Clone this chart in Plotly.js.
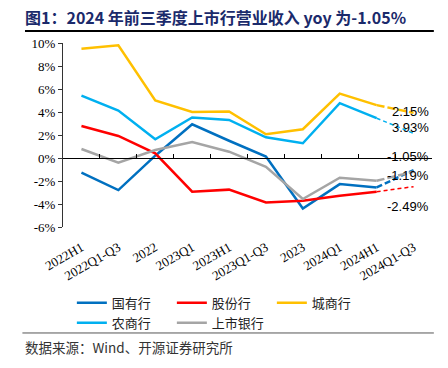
<!DOCTYPE html>
<html>
<head>
<meta charset="utf-8">
<script src="https://cdn.plot.ly/plotly-3.0.1.min.js"></script>
<style>html,body{margin:0;padding:0;background:#fff;}#chart{width:448px;height:368px;}</style>
</head>
<body>
<div id="chart"></div>
<script>
const categories = ["2022H1","2022Q1-Q3","2022","2023Q1","2023H1","2023Q1-Q3","2023","2024Q1","2024H1","2024Q1-Q3"];
const guoyou = [-1.28, -2.79, 0.2, 2.93, 1.5, 0.12, -4.39, -2.27, -2.56, -1.05];
const gufen = [2.79, 1.92, 0.41, -2.93, -2.75, -3.87, -3.72, -3.28, -2.93, -2.49];
const chengshang = [9.5, 9.8, 5.0, 4.0, 4.04, 2.07, 2.5, 5.6, 4.6, 3.93];
const nongshang = [5.43, 4.13, 1.63, 3.52, 3.31, 1.8, 1.28, 4.77, 3.46, 2.15];
const shangshi = [0.78, -0.41, 0.70, 1.39, 0.55, -0.76, -3.57, -1.71, -1.98, -1.19];
const seriesNames = ["国有行","股份行","城商行","农商行","上市银行"];
const endLabels = ["2.15%","3.93%","-1.05%","-1.19%","-2.49%"];
const endLabelY = [4.02, 2.68, 0.17, -1.54, -4.18];
const yTicks = [-6,-4,-2,0,2,4,6,8,10];

const seriesData = [guoyou, gufen, chengshang, nongshang, shangshi];
const colors = ["#0070C0","#FF0000","#FFC000","#00B0F0","#A5A5A5"];
const dashStyle = [
  {dash:"6px,3px", width:2.5},
  {dash:"4px,3px", width:1.5},
  {dash:"8px,3px", width:2.5},
  {dash:"4px,3px", width:1.5},
  {dash:"8px,3px", width:2.5}
];

const traces = [];
seriesData.forEach((vals, i) => {
  traces.push({
    x: categories.slice(0, 9), y: vals.slice(0, 9), type: "scatter", mode: "lines",
    name: seriesNames[i], line: {color: colors[i], width: 2.5}, hoverinfo: "skip"
  });
});
seriesData.forEach((vals, i) => {
  traces.push({
    x: categories.slice(8), y: vals.slice(8), type: "scatter", mode: "lines",
    xaxis: "x2", showlegend: false,
    line: {color: colors[i], width: dashStyle[i].width, dash: dashStyle[i].dash}, hoverinfo: "skip"
  });
});

const serif = "Liberation Serif, Times New Roman, serif";
const cjk = "Noto Sans CJK SC, sans-serif";

const annotations = endLabels.map((t, i) => ({
  text: t, xref: "paper", x: 0.997, xanchor: "right", yref: "y", y: endLabelY[i], yanchor: "middle",
  showarrow: false, font: {family: "Liberation Sans, Arial, sans-serif", size: 13, color: "#000"}
}));
annotations.push({
  text: "数据来源：Wind、开源证券研究所", xref: "paper", x: -0.108, xanchor: "left",
  yref: "paper", y: -0.652, yanchor: "middle", showarrow: false,
  font: {family: cjk, size: 13.5, color: "#333"}
});

const layout = {
  width: 448, height: 368,
  margin: {l: 63, r: 16, t: 43, b: 141},
  paper_bgcolor: "#fff", plot_bgcolor: "#fff",
  showlegend: true,
  title: {
    text: "<b>图1：2024 年前三季度上市行营业收入 yoy 为-1.05%</b>",
    xref: "container", x: 25/448, xanchor: "left",
    yref: "container", y: 1 - 18/368, yanchor: "middle",
    font: {family: cjk, size: 16, color: "#1B2A6B"}
  },
  xaxis: {
    type: "category", categoryorder: "array", categoryarray: categories,
    range: [-0.5, 9.5], showline: false, showgrid: false, zeroline: false,
    ticks: "outside", ticklen: 7, tickcolor: "rgba(0,0,0,0)", tickangle: -30,
    tickfont: {family: serif, size: 13, color: "#000"}
  },
  xaxis2: {
    type: "category", categoryorder: "array", categoryarray: categories,
    overlaying: "x", anchor: "free", position: 6/16, side: "bottom",
    range: [-0.5, 9.5], showline: true, linecolor: "#000", linewidth: 1,
    showgrid: false, zeroline: false, showticklabels: false,
    ticks: "inside", tickson: "boundaries", ticklen: 4, tickcolor: "#000", tickwidth: 1
  },
  yaxis: {
    range: [-6, 10], tickvals: yTicks, ticktext: yTicks.map(v => v + "%"),
    showline: true, linecolor: "#333", linewidth: 1, showgrid: false, zeroline: false,
    ticks: "outside", ticklen: 4, tickcolor: "#333",
    tickfont: {family: serif, size: 13, color: "#000"}
  },
  legend: {
    orientation: "h", x: 0.024, xanchor: "left", y: -0.331, yanchor: "top",
    entrywidth: 55, entrywidthmode: "pixels", bgcolor: "rgba(0,0,0,0)",
    font: {family: cjk, size: 13, color: "#222"}, tracegroupgap: 0, itemwidth: 30
  },
  shapes: [
    {type: "line", xref: "paper", yref: "paper", x0: -0.103, x1: 1.005, y0: 1.065, y1: 1.065, line: {color: "#000", width: 2}},
    {type: "line", xref: "paper", yref: "paper", x0: -0.11, x1: 1.005, y0: -0.576, y1: -0.576, line: {color: "#555", width: 1}}
  ],
  annotations: annotations
};

Plotly.newPlot("chart", traces, layout, {displayModeBar: false, staticPlot: true});
</script>
</body>
</html>
